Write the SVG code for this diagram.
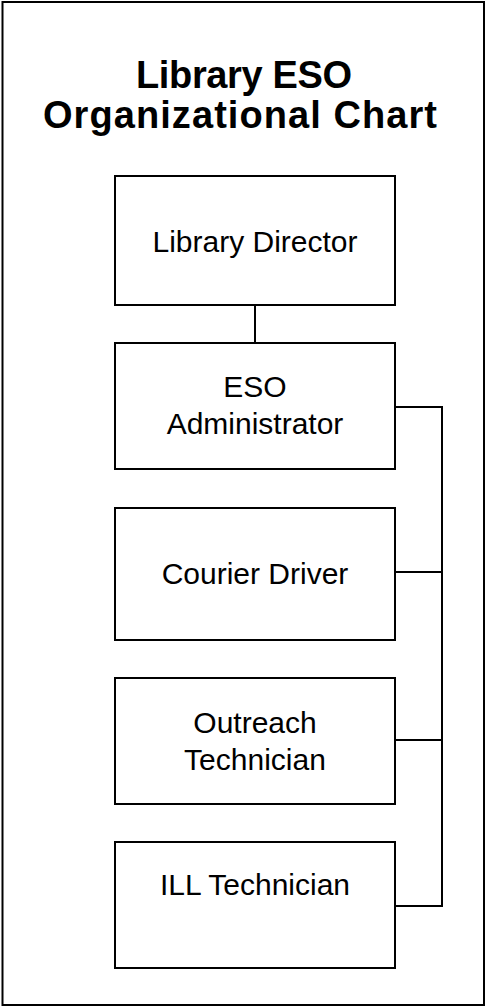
<svg xmlns="http://www.w3.org/2000/svg" width="486" height="1008" viewBox="0 0 486 1008">
<style>
.box{fill:#fff;stroke:#000;stroke-width:2}
.lbl{font-family:"Liberation Sans",Arial,sans-serif;font-size:30px;fill:#000;text-anchor:middle}
.title{font-family:"Liberation Sans",Arial,sans-serif;font-size:38px;font-weight:bold;fill:#000;text-anchor:middle}
.conn{fill:none;stroke:#000;stroke-width:2}
</style>
<rect x="0" y="0" width="486" height="1008" fill="#fff"/>
<rect x="2.5" y="2" width="481.5" height="1003" fill="none" stroke="#000" stroke-width="2"/>
<g id="title">
<text class="title" x="244" y="88" textLength="216" lengthAdjust="spacing">Library ESO</text>
<text class="title" x="240" y="128" textLength="394" lengthAdjust="spacing">Organizational Chart</text>
</g>
<g id="connectors">
<line class="conn" x1="255" y1="305" x2="255" y2="343"/>
<polyline class="conn" points="395,407 442,407 442,906 395,906"/>
<line class="conn" x1="395" y1="572" x2="442" y2="572"/>
<line class="conn" x1="395" y1="740" x2="442" y2="740"/>
</g>
<g id="director">
<rect class="box" x="115" y="176" width="280" height="129"/>
<text class="lbl" x="255" y="252">Library Director</text>
</g>
<g id="administrator">
<rect class="box" x="115" y="343" width="280" height="126"/>
<text class="lbl" x="255" y="397">ESO</text>
<text class="lbl" x="255" y="434">Administrator</text>
</g>
<g id="courier">
<rect class="box" x="115" y="508" width="280" height="132"/>
<text class="lbl" x="255" y="584">Courier Driver</text>
</g>
<g id="outreach">
<rect class="box" x="115" y="678" width="280" height="126"/>
<text class="lbl" x="255" y="733">Outreach</text>
<text class="lbl" x="255" y="770">Technician</text>
</g>
<g id="ill">
<rect class="box" x="115" y="842" width="280" height="126"/>
<text class="lbl" x="255" y="895">ILL Technician</text>
</g>
</svg>
